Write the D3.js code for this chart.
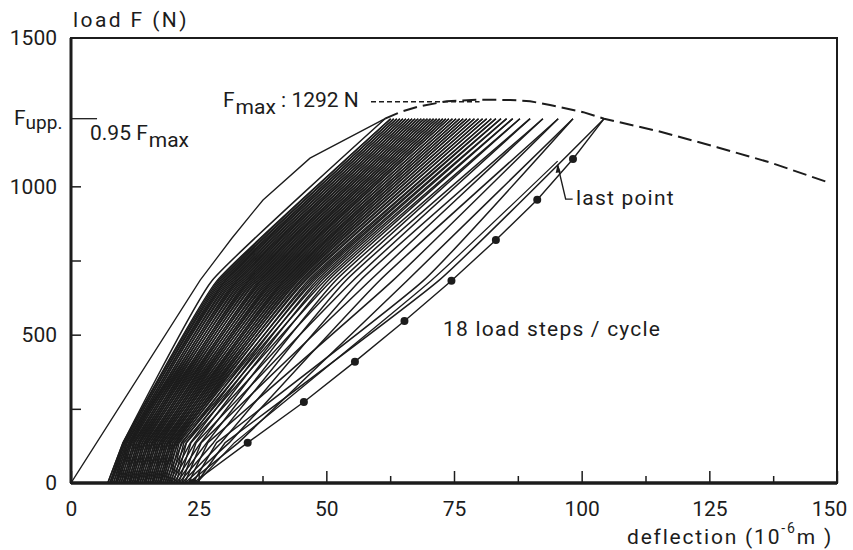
<!DOCTYPE html>
<html><head><meta charset="utf-8">
<script src="https://cdn.jsdelivr.net/npm/d3@7"></script>
<style>
body{margin:0;background:#fff}
text{font-family:Roboto,"DejaVu Sans",sans-serif;fill:#1c1c1c}
</style>
</head><body><svg id="c" width="853" height="550"></svg>
<script>
// ---------- data (deflection in 1e-6 m, load in N) ----------
const xTickLabels = [0, 25, 50, 75, 100, 125, 150];
const xMinorTicks = [12.5, 37.5, 62.5, 87.5, 112.5, 137.5];
const yTickLabels = [0, 500, 1000, 1500];
const yMinorTicks = [250, 500, 750, 1000];
const F_MAX = 1292;
const F_UPP = 1228;
const branchLoads = [0, 136, 682, 1228];
const loadSteps = [0, 136, 273, 409, 546, 682, 819, 955, 1092, 1228];

// first (virgin) loading curve
const virginDefl = [0, 25.3, 31.5, 37.6, 46.8, 61.5];
const virginLoad = [0, 684, 825, 954, 1095, 1228];

// static envelope (dashed)
const envelopeDefl = [61.5, 64.4, 68.3, 73.6, 80.0, 86.0, 89.9, 93.8, 100.3, 104.4, 115.0, 126.5, 137.0, 148.0];
const envelopeLoad = [1228, 1250, 1270, 1287, 1292, 1291, 1287, 1274, 1250, 1228, 1186, 1132, 1080, 1015];

// peak deflection at F_upp: index 0 = virgin loading, 1..41 = reloads
const peakDefl = [61.5, 62.6, 63.2, 63.8, 64.4, 65.0, 65.6, 66.2, 66.8, 67.4, 68.0, 68.6, 69.2, 69.8, 70.4,
  71.0, 71.6, 72.2, 72.8, 73.4, 74.0, 74.7, 75.4, 76.1, 76.8, 77.5, 78.2, 79.0, 79.8, 80.6, 81.4,
  82.3, 83.2, 84.2, 85.3, 86.5, 87.9, 89.9, 92.4, 95.4, 98.3, 104.4];
// residual deflection at zero load after each unloading
const residualDefl = [7.2, 7.6, 7.9, 8.3, 8.7, 9.0, 9.4, 9.8, 10.2, 10.5, 10.9, 11.3, 11.6, 12.0, 12.4,
  12.8, 13.1, 13.5, 13.9, 14.3, 14.6, 15.0, 15.4, 15.8, 16.1, 16.5, 16.9, 17.3, 17.6, 18.0, 18.4,
  18.8, 19.2, 19.6, 20.1, 20.6, 21.1, 21.7, 22.3, 23.0, 23.9, 24.6];
// unloading branches: deflection at 682 N and at 136 N
const unloadMid = [27.6, 28.9, 29.5, 30.1, 30.6, 31.2, 31.8, 32.4, 32.9, 33.5, 34.1, 34.7, 35.2, 35.8, 36.4,
  37.0, 37.5, 38.1, 38.7, 39.3, 39.8, 40.4, 41.0, 41.6, 42.1, 42.7, 43.3, 43.9, 44.5, 45.2, 45.9,
  46.8, 47.6, 48.6, 49.7, 51.0, 52.8, 55.2, 58.5, 63.0, 69.0, 72.0];
const unloadStep1 = [10.2, 10.3, 10.5, 10.8, 11.0, 11.3, 11.5, 11.8, 12.2, 12.5, 12.9, 13.3, 13.6, 14.0, 14.4,
  14.8, 15.1, 15.5, 15.9, 16.3, 16.6, 17.0, 17.4, 17.8, 18.1, 18.5, 18.9, 19.3, 19.6, 20.0, 20.4,
  20.8, 21.2, 21.6, 22.1, 22.6, 23.5, 24.5, 25.5, 26.8, 28.5, 30.2];
// reloading branches 1..40: deflection at 682 N and at 136 N
const reloadMid = [28.6, 29.2, 29.8, 30.3, 30.9, 31.5, 32.1, 32.6, 33.2, 33.8, 34.4, 34.9, 35.5, 36.1, 36.7,
  37.2, 37.8, 38.4, 39.0, 39.5, 40.1, 40.7, 41.3, 41.8, 42.4, 43.0, 43.6, 44.2, 44.9, 45.6,
  46.4, 47.2, 48.1, 49.1, 50.3, 51.8, 53.8, 56.6, 60.4, 65.8];
const reloadStep1 = [10.2, 10.6, 10.9, 11.3, 11.7, 12.0, 12.4, 12.8, 13.2, 13.5, 13.9, 14.3, 14.6, 15.0, 15.4,
  15.8, 16.1, 16.5, 16.9, 17.3, 17.6, 18.0, 18.4, 18.8, 19.1, 19.5, 19.9, 20.3, 20.6, 21.0,
  21.8, 22.6, 23.4, 24.3, 25.4, 26.6, 27.9, 29.4, 31.0, 32.8];
// last full reload (18 load steps / cycle, dots at each step)
const lastCycleDefl = [23.9, 34.6, 45.6, 55.6, 65.3, 74.5, 83.2, 91.3, 98.3, 104.4];
// final partial reload ending at "last point"
const finalDefl = [24.6, 32.0, 70.5, 95.3];
const finalLoad = [0, 136, 682, 1085];

// ---------- drawing ----------
const svg = d3.select('#c');
const x = d3.scaleLinear().domain([0, 150]).range([71, 837]);
const y = d3.scaleLinear().domain([0, 1500]).range([483, 38]);
const line = d3.line().x(d => x(d[0])).y(d => y(d[1]));
const smooth = d3.line().x(d => x(d[0])).y(d => y(d[1])).curve(d3.curveCardinal.tension(0.6));
// first load step straight (stiff contact), remaining steps gently rounded
const branchPath = pts => `M${x(pts[0][0])},${y(pts[0][1])}` + smooth(pts.slice(1)).replace(/^M/, 'L');
const zip = (a, b) => a.map((v, i) => [v, b[i]]);
const ink = '#1c1c1c';

svg.append('defs').append('clipPath').attr('id', 'clip')
  .append('rect').attr('x', x(0)).attr('y', y(1500)).attr('width', x(150) - x(0)).attr('height', y(0) - y(1500));
const plot = svg.append('g').attr('clip-path', 'url(#clip)');

const branches = [];
peakDefl.forEach((p, k) => {
  branches.push([[residualDefl[k], 0], [unloadStep1[k], branchLoads[1]], [unloadMid[k], branchLoads[2]], [p, F_UPP]]);
});
reloadMid.forEach((m, i) => {
  branches.push([[residualDefl[i], 0], [reloadStep1[i], branchLoads[1]], [m, branchLoads[2]], [peakDefl[i + 1], F_UPP]]);
});

plot.append('g').selectAll('path').data(branches).join('path')
  .attr('d', branchPath).attr('fill', 'none').attr('stroke', ink).attr('stroke-width', 1.5);

const lastCycle = zip(lastCycleDefl, loadSteps);
plot.append('path').attr('d', line(lastCycle)).attr('fill', 'none').attr('stroke', ink).attr('stroke-width', 1.4);
plot.append('path').attr('d', branchPath(zip(finalDefl, finalLoad))).attr('fill', 'none').attr('stroke', ink).attr('stroke-width', 1.3);
plot.append('g').selectAll('circle').data(lastCycle.slice(0, 9)).join('circle')
  .attr('cx', d => x(d[0])).attr('cy', d => y(d[1])).attr('r', 4).attr('fill', ink);

plot.append('path').attr('d', line(zip(virginDefl, virginLoad))).attr('fill', 'none').attr('stroke', ink).attr('stroke-width', 1.3);
plot.append('path').attr('d', line(zip(envelopeDefl, envelopeLoad))).attr('fill', 'none')
  .attr('stroke', ink).attr('stroke-width', 2).attr('stroke-dasharray', '14,6');

// axes
const fs = 21;
svg.append('g').attr('transform', `translate(0,${y(0)})`)
  .call(d3.axisBottom(x).tickValues(xTickLabels).tickSizeInner(-12).tickSizeOuter(0).tickPadding(18));
svg.append('g').attr('transform', `translate(0,${y(0)})`)
  .call(d3.axisBottom(x).tickValues(xMinorTicks).tickSizeInner(-7).tickSizeOuter(0).tickFormat(''));
svg.append('g').attr('transform', `translate(${x(0)},0)`)
  .call(d3.axisLeft(y).tickValues(yTickLabels).tickFormat(d3.format('d')).tickSizeInner(0).tickSizeOuter(0).tickPadding(14));
svg.append('g').attr('transform', `translate(${x(0)},0)`)
  .call(d3.axisLeft(y).tickValues(yMinorTicks).tickSizeInner(-10).tickSizeOuter(0).tickFormat(''));
svg.selectAll('.domain').remove();
svg.selectAll('.tick line').attr('stroke', ink).attr('stroke-width', 1.5);
svg.selectAll('.tick text').style('font-family', 'Roboto, "DejaVu Sans", sans-serif').style('font-size', fs + 'px').attr('fill', ink);
svg.selectAll('.tick text').filter(d => d === 150).attr('dx', -8);

// frame
svg.append('rect').attr('x', x(0)).attr('y', y(1500)).attr('width', x(150) - x(0)).attr('height', y(0) - y(1500))
  .attr('fill', 'none').attr('stroke', ink).attr('stroke-width', 2);
svg.append('line').attr('x1', x(0)).attr('x2', x(150)).attr('y1', y(0)).attr('y2', y(0)).attr('stroke', ink).attr('stroke-width', 3.5);
svg.append('line').attr('x1', x(0)).attr('x2', x(0)).attr('y1', y(0)).attr('y2', y(1500)).attr('stroke', ink).attr('stroke-width', 3);

// texts
const T = (tx, ty, s, ls) => svg.append('text').attr('x', tx).attr('y', ty)
  .style('font-size', fs + 'px').style('letter-spacing', (ls || 0) + 'px').text(s);
T(73, 27, 'load F (N)', 2.4);
const dx = svg.append('text').attr('x', 833).attr('y', 544).attr('text-anchor', 'end')
  .style('font-size', fs + 'px').style('letter-spacing', '1.8px');
dx.append('tspan').text('deflection  (10');
dx.append('tspan').attr('dy', -11).style('font-size', '14px').text('-6');
dx.append('tspan').attr('dy', 11).text('m )');

// F_upp marker
svg.append('line').attr('x1', x(0)).attr('x2', x(5.1)).attr('y1', y(F_UPP)).attr('y2', y(F_UPP)).attr('stroke', ink).attr('stroke-width', 1.3);
const fu = svg.append('text').attr('x', 14).attr('y', 125).style('font-size', fs + 'px');
fu.append('tspan').text('F');
fu.append('tspan').attr('dy', 4).style('font-size', '19px').text('upp.');
const f95 = svg.append('text').attr('x', 90).attr('y', 140).style('font-size', fs + 'px');
f95.append('tspan').text('0.95 F');
f95.append('tspan').attr('dy', 7).attr('dx', 1).text('max');

// F_max annotation
const fm = svg.append('text').attr('x', 223).attr('y', 107).style('font-size', fs + 'px');
fm.append('tspan').text('F');
fm.append('tspan').attr('dy', 7).attr('dx', 1).text('max');
fm.append('tspan').attr('dy', -7).text(' : 1292 N');
svg.append('line').attr('x1', 371).attr('x2', x(80)).attr('y1', y(F_MAX) + 2).attr('y2', y(F_MAX) + 2)
  .attr('stroke', ink).attr('stroke-width', 1.4).attr('stroke-dasharray', '5,3');

// last point
const lp = [x(finalDefl[3]), y(finalLoad[3])];
svg.append('path').attr('d', `M${lp[0]},${lp[1] + 4}L${lp[0] + 8},${lp[1] + 38}L${lp[0] + 15},${lp[1] + 38}`)
  .attr('fill', 'none').attr('stroke', ink).attr('stroke-width', 1.4);
svg.append('path').attr('d', `M${lp[0] - 2},${lp[1] + 12}L${lp[0]},${lp[1] + 3}L${lp[0] + 3},${lp[1] + 11}Z`).attr('fill', ink);
T(576, 205, 'last point', 1.2);
T(443, 336, '18 load steps / cycle', 1.2);
</script></body></html>
